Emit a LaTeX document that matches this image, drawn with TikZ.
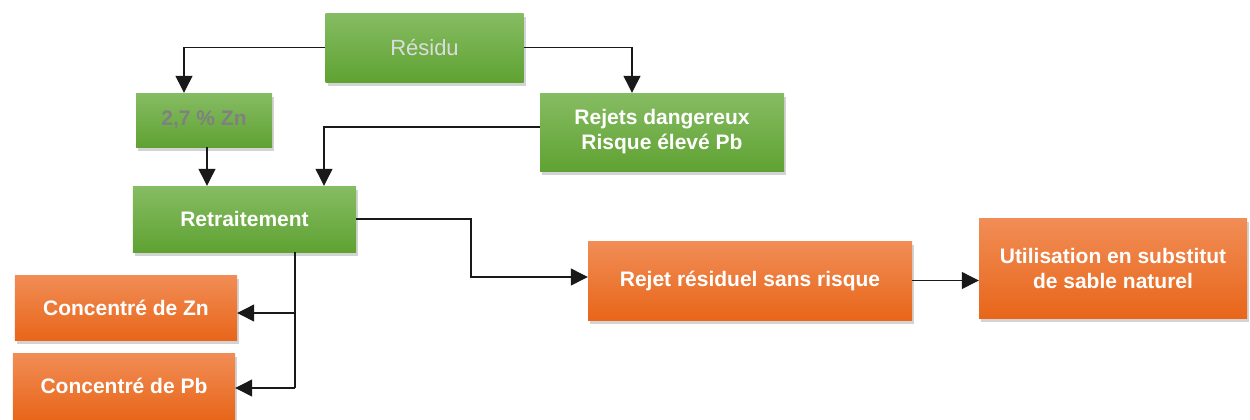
\documentclass[tikz,border=0pt]{standalone}
\usepackage{fontspec}
\setmainfont{Liberation Sans}
\usetikzlibrary{arrows.meta,shadows}
\definecolor{gtop}{HTML}{86BC63}
\definecolor{gbot}{HTML}{5FA232}
\definecolor{otop}{HTML}{F18D56}
\definecolor{obot}{HTML}{E8661A}
\definecolor{restext}{HTML}{DCDCDC}
\definecolor{zntext}{HTML}{808080}
\begin{document}
\begin{tikzpicture}[x=1bp,y=-1bp,
  box/.style={rectangle, inner sep=0pt, align=center,
    font=\fontsize{21bp}{25bp}\selectfont\bfseries, text=white,
    drop shadow={shadow xshift=2bp,shadow yshift=-4bp,opacity=0.35}},
  gbox/.style={box, top color=gtop, bottom color=gbot},
  obox/.style={box, top color=otop, bottom color=obot},
  conn/.style={draw=black!90, line width=1.2bp},
  arr/.style={conn, -{Triangle[length=17bp,width=17bp]}}]
\useasboundingbox (0,0) rectangle (1250,419);

\node[gbox, minimum width=198bp, minimum height=69bp,
  font=\fontsize{22bp}{25bp}\selectfont, text=restext] (res) at (424.5,47.5) {Résidu};
\node[gbox, minimum width=136bp, minimum height=54bp, text=zntext] (zn) at (204,120) {2,7 \% Zn};
\node[gbox, minimum width=244bp, minimum height=78bp] (rej) at (662,132) {Rejets dangereux\\Risque élevé Pb};
\node[gbox, minimum width=223bp, minimum height=66bp] (retr) at (244.5,219) {Retraitement};
\node[obox, minimum width=222bp, minimum height=65bp] (czn) at (126,307.5) {Concentré de Zn};
\node[obox, minimum width=222bp, minimum height=66bp] (cpb) at (124,386) {Concentré de Pb};
\node[obox, minimum width=324bp, minimum height=79bp] (rr) at (750,280.5) {Rejet résiduel sans risque};
\node[obox, minimum width=268bp, minimum height=100bp] (util) at (1113,268) {Utilisation en substitut\\de sable naturel};

\draw[arr] (res.west) -| ([xshift=-20bp]zn.north);
\draw[arr] (res.east) -| ([xshift=-30bp]rej.north);
\draw[arr] ([xshift=3bp]zn.south) -- ([xshift=3bp]zn.south |- retr.north);
\draw[arr] ([yshift=5bp]rej.west) -| ([xshift=79.5bp]retr.north);

\coordinate (b1) at (471,277);
\draw[arr] (retr.east) -| (b1) -- (b1 -| rr.west);
\draw[arr] (rr.east) -- (rr.east -| util.west);

\coordinate (j1) at (295,313);
\coordinate (j2) at (295,388);
\draw[conn] (retr.south -| j1) -- (j2);
\draw[arr] (j1) -- (j1 -| czn.east);
\draw[arr] (j2) -- (j2 -| cpb.east);
\end{tikzpicture}
\end{document}
